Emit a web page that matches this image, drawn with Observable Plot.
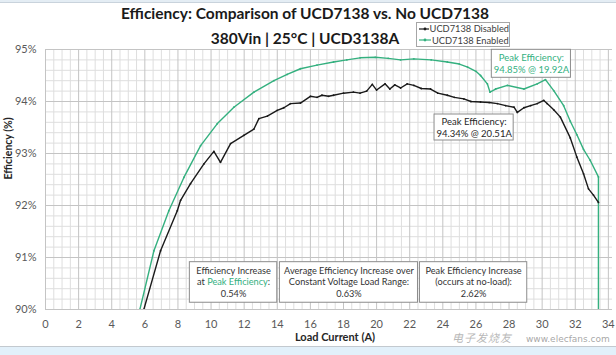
<!DOCTYPE html>
<html>
<head>
<meta charset="utf-8">
<script src="https://cdn.jsdelivr.net/npm/d3@7"></script>
<script src="https://cdn.jsdelivr.net/npm/@observablehq/plot@0.6"></script>
<style>
  html, body { margin: 0; padding: 0; }
  body { width: 616px; height: 355px; background: #e2f0fa; position: relative; overflow: hidden; font-family: Lato, "Open Sans", sans-serif; }
  #topstrip { position: absolute; left: 0; top: 0; width: 616px; height: 2px; background: #e4edf4; border-bottom: 1px solid #c9d3dc; }
  #chart { position: absolute; left: 0; top: 3px; width: 616px; height: 343px; background: white; border-bottom: 1px solid #c3c9cf; }
  #legend { position: absolute; left: 416px; top: 22px; width: 92px; height: 23px; border: 1px solid #a6a6a6; background: white; font-size: 9.3px; color: #404040; line-height: 11.5px; }
  #legend .row { display: flex; align-items: center; height: 11.5px; white-space: nowrap; }
  #legend svg { margin: 0 1px 0 2px; }
  #wm1 { position: absolute; left: 452px; top: 331px; font-size: 11px; font-style: italic; color: rgba(165,165,165,0.8); font-family: "Noto Sans CJK SC", sans-serif; letter-spacing: 1px; line-height: 13px; }
  #wm2 { position: absolute; left: 526px; top: 334px; font-size: 9px; color: rgba(150,150,150,0.85); font-family: "DejaVu Sans", sans-serif; line-height: 11px; }
</style>
</head>
<body>
<div id="topstrip"></div>
<div id="chart"></div>
<div id="legend"></div>
<div id="wm1">电子发烧友</div>
<div id="wm2">www.elecfans.com</div>
<script>
// ---- data ----
const titleText = "Efficiency: Comparison of UCD7138 vs. No UCD7138";
const subtitleText = "380Vin | 25°C | UCD3138A";
const xLabel = "Load Current (A)";
const yLabel = "Efficiency (%)";
const seriesNames = ["UCD7138 Disabled", "UCD7138 Enabled"];
const seriesColors = ["#1a1a1a", "#34b07f"];

const loadTicks = [0, 2, 4, 6, 8, 10, 12, 14, 16, 18, 20, 22, 24, 26, 28, 30, 32, 34];
const effTicks = [90, 91, 92, 93, 94, 95];

// UCD7138 Disabled (black)
const disabledCurrent = [5.6, 5.94, 6.95, 7.96, 8.16, 8.76, 9.57, 10.17, 10.57, 11.18, 11.98, 12.59, 12.89, 13.4, 14.0, 14.4, 14.8, 15.4, 16.0, 16.4, 16.7, 17.1, 17.4, 18.0, 18.6, 19.0, 19.4, 19.74, 20.0, 20.51, 20.8, 21.1, 21.45, 21.85, 22.25, 22.7, 23.26, 23.7, 24.27, 24.7, 25.27, 25.7, 26.28, 26.8, 27.3, 27.8, 28.3, 28.5, 28.9, 29.3, 29.7, 30.1, 30.3, 30.7, 31.1, 31.7, 32.1, 32.5, 32.8, 33.1, 33.4];
const disabledEff = [89.5, 90.0, 91.13, 91.90, 92.10, 92.42, 92.80, 93.04, 92.83, 93.19, 93.35, 93.47, 93.67, 93.72, 93.83, 93.88, 93.96, 93.97, 94.10, 94.08, 94.12, 94.10, 94.12, 94.16, 94.18, 94.16, 94.20, 94.33, 94.22, 94.34, 94.24, 94.32, 94.26, 94.34, 94.31, 94.25, 94.24, 94.16, 94.12, 94.08, 94.05, 94.00, 93.99, 93.98, 93.96, 93.92, 93.89, 93.79, 93.88, 93.92, 93.96, 94.02, 93.96, 93.84, 93.70, 93.30, 92.93, 92.61, 92.32, 92.20, 92.06];

// UCD7138 Enabled (green)
const enabledCurrent = [5.4, 5.70, 6.55, 7.45, 8.36, 9.37, 10.37, 11.38, 12.59, 13.8, 14.6, 15.4, 16.4, 17.4, 18.2, 19.0, 19.92, 20.7, 21.45, 22.25, 23.3, 24.27, 25.0, 25.5, 26.0, 26.28, 26.69, 26.85, 27.19, 27.9, 28.9, 29.7, 30.2, 30.7, 31.3, 31.7, 32.1, 32.5, 32.9, 33.4, 33.4];
const enabledEff = [89.5, 90.0, 91.13, 91.90, 92.54, 93.15, 93.57, 93.89, 94.18, 94.40, 94.52, 94.63, 94.70, 94.76, 94.80, 94.84, 94.85, 94.83, 94.80, 94.82, 94.80, 94.76, 94.72, 94.66, 94.58, 94.50, 94.34, 94.18, 94.24, 94.31, 94.24, 94.34, 94.42, 94.21, 93.92, 93.62, 93.36, 93.08, 92.87, 92.55, 89.0];

// annotations (text content)
const peakEnabledLines = ["Peak Efficiency:", "94.85% @ 19.92A"];
const peakDisabledLines = ["Peak Efficiency:", "94.34% @ 20.51A"];
const summaryLines = [
  ["Efficiency Increase", "at Peak Efficiency:", "0.54%"],
  ["Average Efficiency Increase over", "Constant Voltage Load Range:", "0.63%"],
  ["Peak Efficiency Increase", "(occurs at no-load):", "2.62%"]
];
// annotation placement in data units (A, %)
const peakEnabledBox = {x1: 26.96, x2: 31.74, y1: 94.456, y2: 94.994, x: 29.35, ys: [94.83, 94.60]};
const peakDisabledBox = {x1: 23.50, x2: 28.28, y1: 93.25, y2: 93.75, x: 25.89, ys: [93.60, 93.37]};
const summaryBoxes = [
  {x1: 8.72, x2: 14.0, y1: 90.13, y2: 90.91},
  {x1: 14.16, x2: 22.5, y1: 90.13, y2: 90.91},
  {x1: 22.62, x2: 29.1, y1: 90.13, y2: 90.91}
];
const summaryYs = [90.74, 90.53, 90.30];

// ---- build tables ----
const disabled = disabledCurrent.map((x, i) => ({x, y: disabledEff[i]}));
const enabled = enabledCurrent.map((x, i) => ({x, y: enabledEff[i]}));
const minorX = d3.range(0, 34.26, 0.5).filter(v => v % 2 !== 0);
const minorY = d3.range(90, 95.001, 0.2).map(v => +v.toFixed(1)).filter(v => !effTicks.includes(v));

const summaryText = [];
summaryBoxes.forEach((b, i) => summaryLines[i].forEach((t, j) => summaryText.push({x: (b.x1 + b.x2) / 2, y: summaryYs[j], t, bold: j === 2})));

const gridStroke = "#dedede";
const majorStroke = "#c4c4c4";

const plot = Plot.plot({
  width: 616,
  height: 343,
  marginLeft: 45,
  marginRight: 4,
  marginTop: 46,
  marginBottom: 37,
  style: {fontFamily: "Lato, 'Open Sans', sans-serif", background: "white", overflow: "visible"},
  x: {domain: [0, 34.25]},
  y: {domain: [90, 95]},
  marks: [
    Plot.ruleX(minorX, {stroke: gridStroke, strokeWidth: 1}),
    Plot.ruleY(minorY, {stroke: gridStroke, strokeWidth: 1}),
    Plot.ruleX(loadTicks, {stroke: majorStroke, strokeWidth: 1}),
    Plot.ruleY(effTicks, {stroke: majorStroke, strokeWidth: 1}),
    Plot.axisX(loadTicks, {tickSize: 0, tickPadding: 11, fontSize: 11, color: "#595959", label: null}),
    Plot.axisY(effTicks, {tickSize: 0, tickPadding: 9, fontSize: 11, color: "#595959", label: null, tickFormat: d => d + "%"}),
    Plot.line(enabled, {x: "x", y: "y", stroke: seriesColors[1], strokeWidth: 1.4, clip: true}),
    Plot.line(disabled, {x: "x", y: "y", stroke: seriesColors[0], strokeWidth: 1.4, clip: true}),
    Plot.dot(enabled.filter(d => d.y >= 90), {x: "x", y: "y", r: 0.9, fill: seriesColors[1], clip: true}),
    Plot.dot(disabled.filter(d => d.y >= 90), {x: "x", y: "y", r: 0.9, fill: seriesColors[0], clip: true}),
    // annotation boxes
    Plot.rect([peakEnabledBox], {x1: "x1", x2: "x2", y1: "y1", y2: "y2", fill: "white", stroke: "#8c8c8c"}),
    Plot.text(peakEnabledLines, {x: peakEnabledBox.x, y: (d, i) => peakEnabledBox.ys[i], text: d => d, fill: seriesColors[1], fontSize: 9.5, fontWeight: (d, i) => i ? "bold" : "normal"}),
    Plot.rect([peakDisabledBox], {x1: "x1", x2: "x2", y1: "y1", y2: "y2", fill: "white", stroke: "#8c8c8c"}),
    Plot.text(peakDisabledLines, {x: peakDisabledBox.x, y: (d, i) => peakDisabledBox.ys[i], text: d => d, fill: "#262626", fontSize: 9.5, fontWeight: (d, i) => i ? "bold" : "normal"}),
    Plot.rect(summaryBoxes, {x1: "x1", x2: "x2", y1: "y1", y2: "y2", fill: "white", stroke: "#8c8c8c"}),
    Plot.text(summaryText, {x: "x", y: "y", text: "t", fill: "#333", fontSize: 9.2, fontWeight: d => d.bold ? "bold" : "normal"}),
    // titles
    Plot.text([titleText], {frameAnchor: "top", lineAnchor: "middle", dx: -24, dy: -35, fontSize: 15.5, fontWeight: "bold", fill: "#1a1a1a"}),
    Plot.text([subtitleText], {frameAnchor: "top", lineAnchor: "middle", dx: -24, dy: -10, fontSize: 15.5, fontWeight: "bold", fill: "#1a1a1a"}),
    Plot.text([xLabel], {frameAnchor: "bottom", lineAnchor: "middle", dx: 6, dy: 28, fontSize: 11, fontWeight: "bold", fill: "#262626"}),
    Plot.text([yLabel], {frameAnchor: "left", dx: -37, rotate: -90, fontSize: 10.5, fontWeight: "bold", fill: "#262626"})
  ]
});
document.getElementById("chart").appendChild(plot);

// colour "Peak Efficiency" green inside summary box text
plot.querySelectorAll("text").forEach(el => {
  if (el.textContent === "at Peak Efficiency:") {
    el.textContent = "";
    const parts = [["at ", "#333"], ["Peak Efficiency", seriesColors[1]], [":", "#333"]];
    parts.forEach(([s, c]) => {
      const ts = document.createElementNS("http://www.w3.org/2000/svg", "tspan");
      ts.textContent = s;
      ts.setAttribute("fill", c);
      el.appendChild(ts);
    });
  }
});

// legend
const legend = document.getElementById("legend");
seriesNames.forEach((name, i) => {
  const row = document.createElement("div");
  row.className = "row";
  row.innerHTML = `<svg width="12" height="6"><line x1="0" y1="3" x2="12" y2="3" stroke="${seriesColors[i]}" stroke-width="1.2"/><circle cx="6" cy="3" r="1.4" fill="${seriesColors[i]}"/></svg><span>${name}</span>`;
  legend.appendChild(row);
});
</script>
</body>
</html>
